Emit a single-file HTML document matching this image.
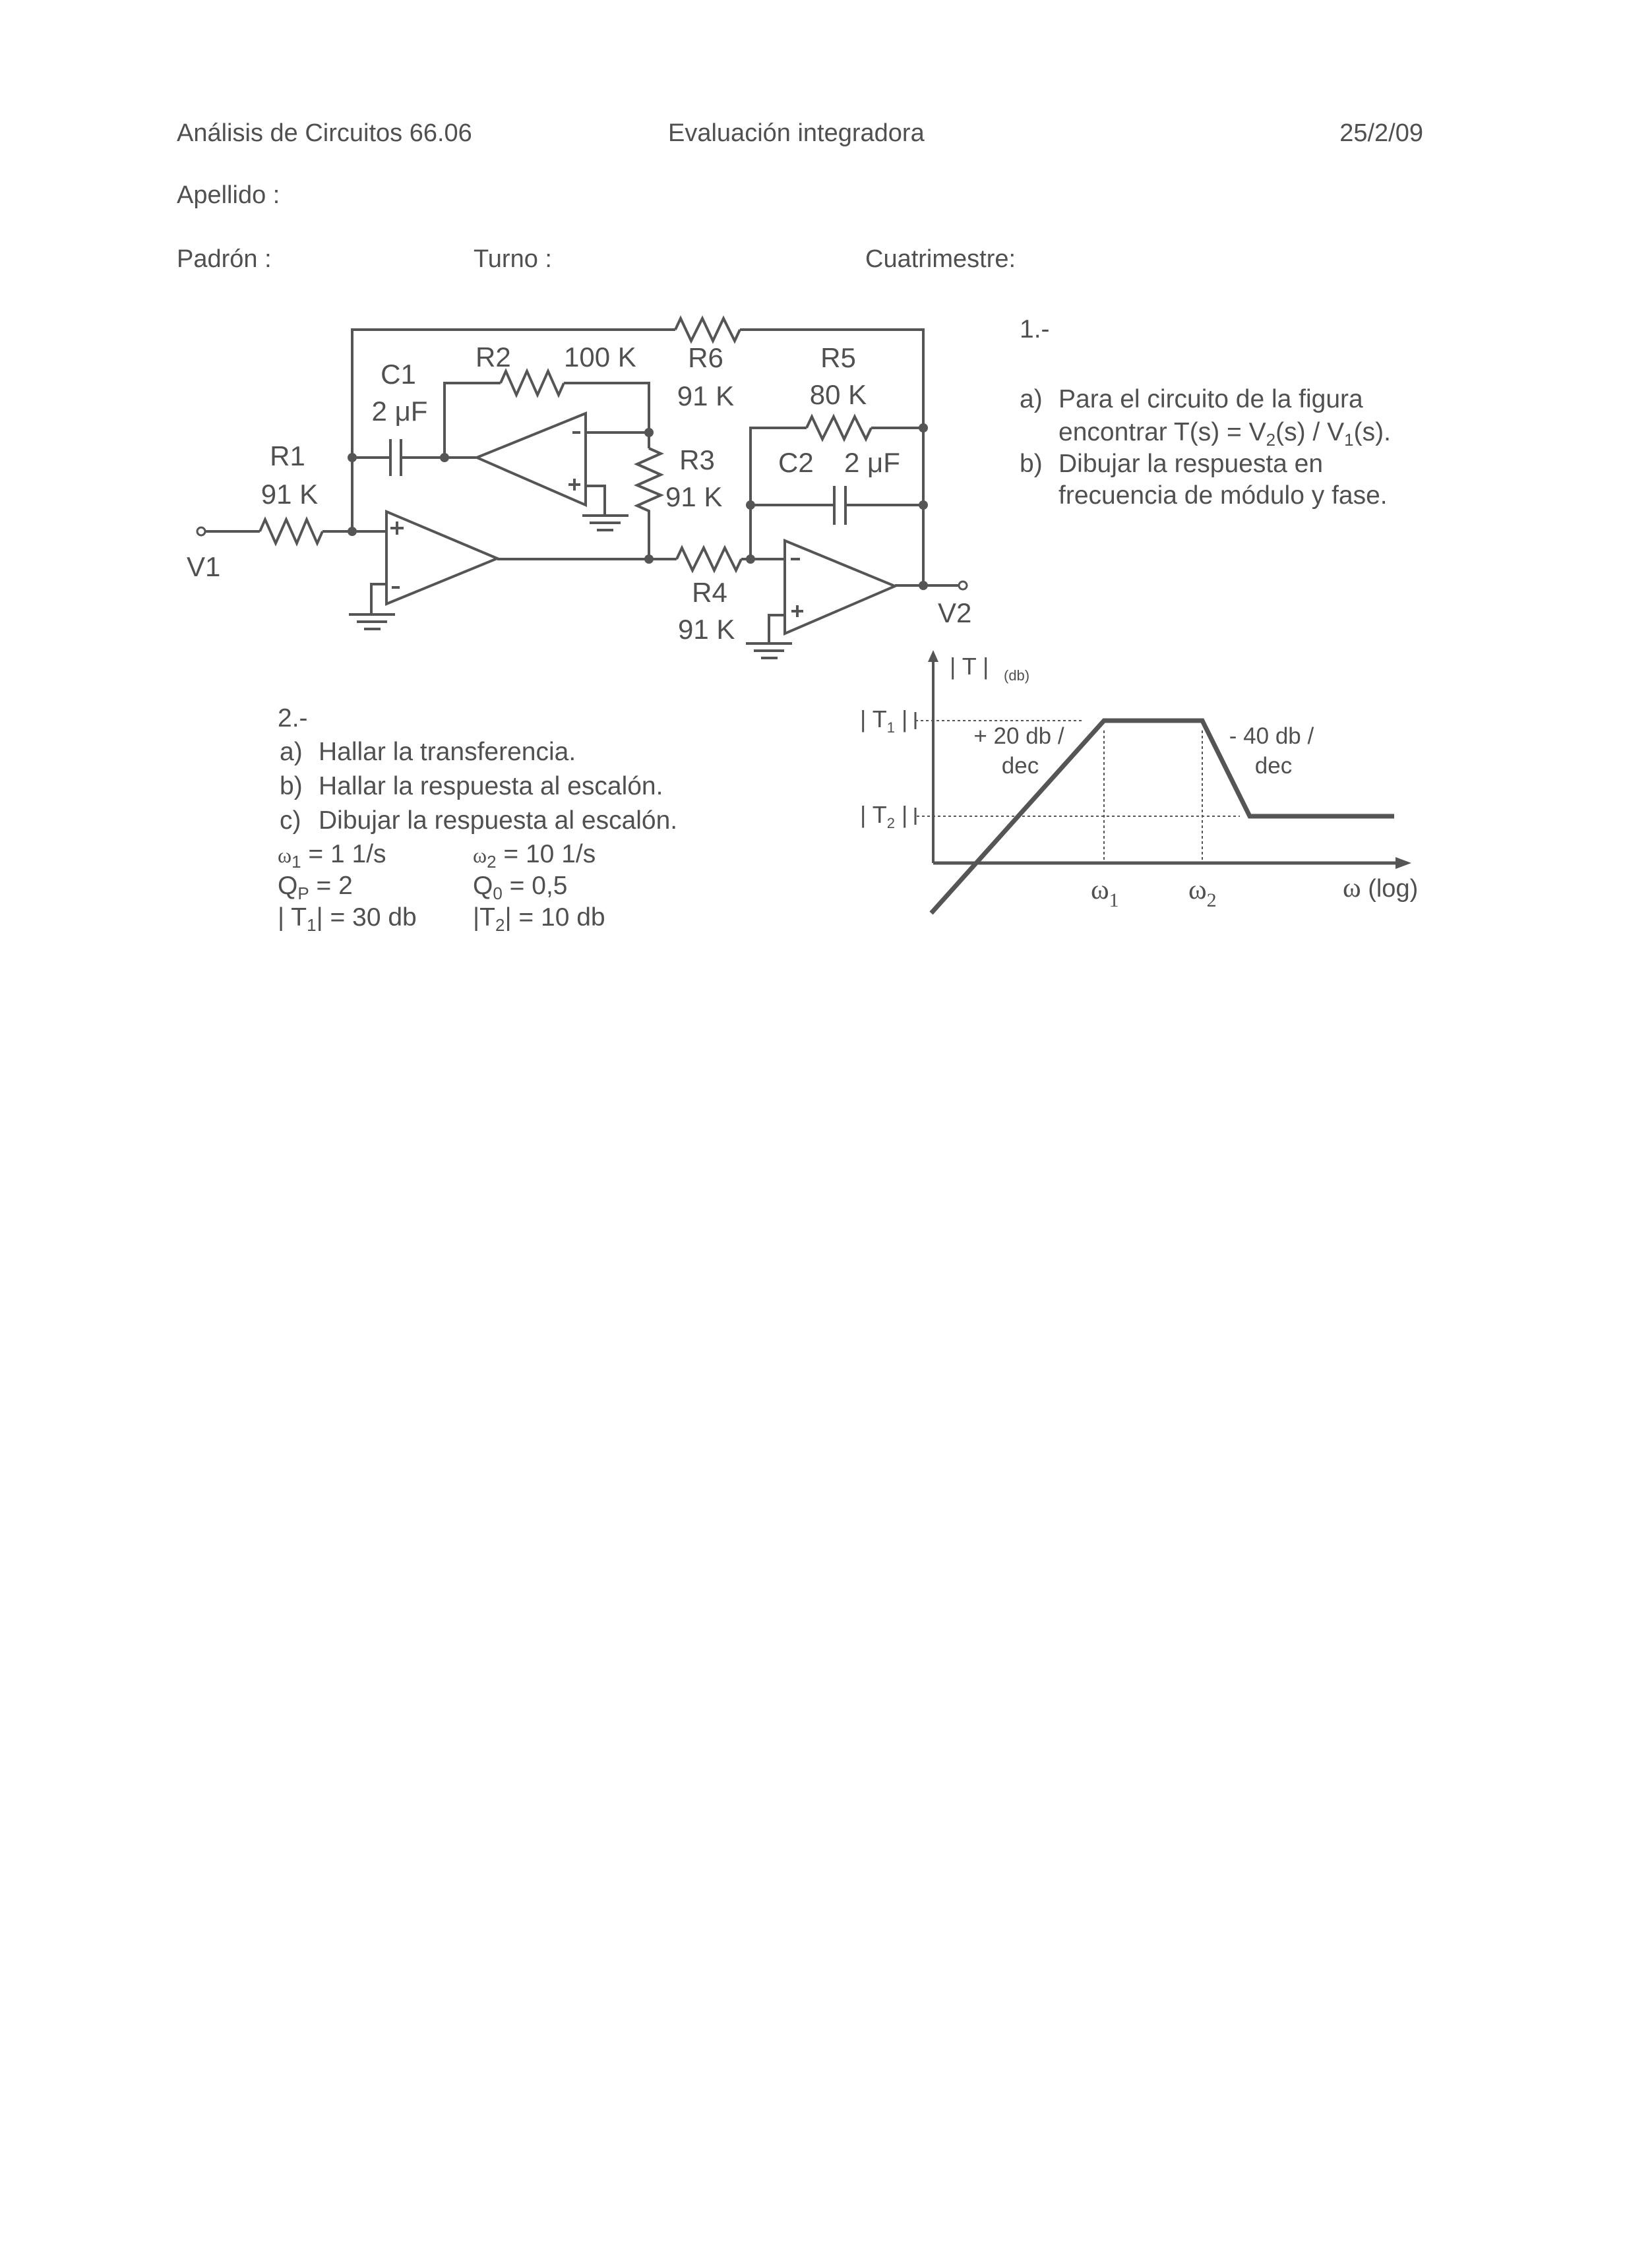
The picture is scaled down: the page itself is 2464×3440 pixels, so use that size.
<!DOCTYPE html>
<html><head><meta charset="utf-8"><style>
html,body{margin:0;padding:0;background:#fff;}
svg{display:block;}
text{font-family:"Liberation Sans",sans-serif;fill:#505050;}
.s{font-family:"Liberation Serif",serif;}
</style></head><body>
<svg width="2464" height="3440" viewBox="0 0 2464 3440" xmlns="http://www.w3.org/2000/svg">
<rect width="2464" height="3440" fill="#fff"/>
<!-- header -->
<g font-size="38">
<text x="268" y="214">Análisis de Circuitos 66.06</text>
<text x="1013" y="214">Evaluación integradora</text>
<text x="2158" y="214" text-anchor="end">25/2/09</text>
<text x="268" y="308">Apellido :</text>
<text x="268" y="405">Padrón :</text>
<text x="718" y="405">Turno :</text>
<text x="1312" y="405">Cuatrimestre:</text>
</g>

<!-- circuit -->
<g stroke="#555" stroke-width="4" fill="none" stroke-linejoin="miter">
<polyline points="534,806 534,500 1024,500"/>
<polyline points="1024,500 1032,483 1048,517 1065,483 1081,517 1097,483 1114,517 1122,500"/>
<polyline points="1122,500 1400,500 1400,888"/>
<line x1="534" y1="694" x2="592" y2="694"/>
<line x1="592" y1="666" x2="592" y2="722"/>
<line x1="608" y1="666" x2="608" y2="722"/>
<line x1="608" y1="694" x2="723" y2="694"/>
<polyline points="674,694 674,581 759,581"/>
<polyline points="759,581 767,563 783,599 799,563 815,599 831,563 847,599 855,581"/>
<polyline points="855,581 984,581 984,680"/>
<polygon points="888,627 888,766 723,694"/>
<line x1="888" y1="656" x2="984" y2="656"/>
<polyline points="888,737 917,737 917,782"/>
<line x1="883" y1="782" x2="953" y2="782"/>
<line x1="894" y1="793" x2="941" y2="793"/>
<line x1="905" y1="804" x2="930" y2="804"/>
<polyline points="984,680 1002,688 966,704 1002,720 966,736 1002,751 966,767 984,775 984,848"/>
<circle cx="305" cy="806" r="6" stroke-width="3"/>
<line x1="311" y1="806" x2="394" y2="806"/>
<polyline points="394,806 402,788 418,824 434,788 450,824 465,788 481,824 489,806"/>
<line x1="489" y1="806" x2="586" y2="806"/>
<polygon points="586,776 586,916 754,847"/>
<line x1="754" y1="848" x2="1026" y2="848"/>
<polyline points="586,886 563,886 563,932"/>
<line x1="529" y1="932" x2="599" y2="932"/>
<line x1="541" y1="943" x2="587" y2="943"/>
<line x1="552" y1="954" x2="577" y2="954"/>
<polyline points="1026,848 1034,831 1050,865 1067,831 1083,865 1099,831 1116,865 1124,848"/>
<line x1="1124" y1="848" x2="1190" y2="848"/>
<polyline points="1138,848 1138,649 1223,649"/>
<polyline points="1223,649 1231,632 1247,666 1264,632 1280,666 1296,632 1313,666 1321,649"/>
<line x1="1321" y1="649" x2="1400" y2="649"/>
<line x1="1138" y1="766" x2="1265" y2="766"/>
<line x1="1265" y1="737" x2="1265" y2="796"/>
<line x1="1282" y1="737" x2="1282" y2="796"/>
<line x1="1282" y1="766" x2="1400" y2="766"/>
<polygon points="1190,820 1190,961 1357,889"/>
<line x1="1357" y1="888" x2="1454" y2="888"/>
<circle cx="1460" cy="888" r="6" stroke-width="3"/>
<polyline points="1190,933 1166,933 1166,976"/>
<line x1="1131" y1="976" x2="1201" y2="976"/>
<line x1="1143" y1="987" x2="1189" y2="987"/>
<line x1="1154" y1="998" x2="1179" y2="998"/>
<g stroke-width="4">
<line x1="592" y1="801" x2="612" y2="801"/><line x1="602" y1="791" x2="602" y2="811"/>
<line x1="594" y1="891" x2="606" y2="891"/>
<line x1="868" y1="656" x2="880" y2="656"/>
<line x1="862" y1="735" x2="880" y2="735"/><line x1="871" y1="726" x2="871" y2="744"/>
<line x1="1199" y1="848" x2="1213" y2="848"/>
<line x1="1200" y1="927" x2="1218" y2="927"/><line x1="1209" y1="918" x2="1209" y2="936"/>
</g>
</g>
<g fill="#555">
<circle cx="534" cy="694" r="7"/><circle cx="674" cy="694" r="7"/><circle cx="534" cy="806" r="7"/>
<circle cx="984" cy="656" r="7"/><circle cx="984" cy="848" r="7"/><circle cx="1138" cy="848" r="7"/>
<circle cx="1138" cy="766" r="7"/><circle cx="1400" cy="649" r="7"/><circle cx="1400" cy="766" r="7"/>
<circle cx="1400" cy="888" r="7"/>
</g>
<g font-size="42">
<text x="604" y="582" text-anchor="middle">C1</text>
<text x="606" y="638" text-anchor="middle">2 μF</text>
<text x="721" y="556">R2</text>
<text x="855" y="556">100 K</text>
<text x="1070" y="557" text-anchor="middle">R6</text>
<text x="1070" y="615" text-anchor="middle">91 K</text>
<text x="1271" y="557" text-anchor="middle">R5</text>
<text x="1271" y="613" text-anchor="middle">80 K</text>
<text x="436" y="706" text-anchor="middle">R1</text>
<text x="439" y="764" text-anchor="middle">91 K</text>
<text x="283" y="874">V1</text>
<text x="1057" y="712" text-anchor="middle">R3</text>
<text x="1009" y="768">91 K</text>
<text x="1180" y="716">C2</text>
<text x="1280" y="716">2 μF</text>
<text x="1076" y="913" text-anchor="middle">R4</text>
<text x="1028" y="969">91 K</text>
<text x="1422" y="944">V2</text>
</g>

<g font-size="39">
<text x="1546" y="512">1.-</text>
<text x="1546" y="618">a)</text><text x="1605" y="618">Para el circuito de la figura</text>
<text x="1605" y="668">encontrar T(s) = V<tspan font-size="26" dy="8">2</tspan><tspan dy="-8">(s) / V</tspan><tspan font-size="26" dy="8">1</tspan><tspan dy="-8">(s).</tspan></text>
<text x="1546" y="716">b)</text><text x="1605" y="716">Dibujar la respuesta en</text>
<text x="1605" y="764">frecuencia de módulo y fase.</text>
</g>

<g font-size="39">
<text x="421" y="1102">2.-</text>
<text x="424" y="1153">a)</text><text x="483" y="1153">Hallar la transferencia.</text>
<text x="424" y="1205">b)</text><text x="483" y="1205">Hallar la respuesta al escalón.</text>
<text x="424" y="1257">c)</text><text x="483" y="1257">Dibujar la respuesta al escalón.</text>
<text x="421" y="1308"><tspan class="s" font-size="32">ω</tspan><tspan font-size="26" dy="8">1</tspan><tspan dy="-8"> = 1  1/s</tspan></text>
<text x="717" y="1308"><tspan class="s" font-size="32">ω</tspan><tspan font-size="26" dy="8">2</tspan><tspan dy="-8"> = 10 1/s</tspan></text>
<text x="421" y="1356">Q<tspan font-size="26" dy="8">P</tspan><tspan dy="-8"> = 2</tspan></text>
<text x="717" y="1356">Q<tspan font-size="26" dy="8">0</tspan><tspan dy="-8">  = 0,5</tspan></text>
<text x="421" y="1404">| T<tspan font-size="26" dy="8">1</tspan><tspan dy="-8">|  = 30 db</tspan></text>
<text x="717" y="1404">|T<tspan font-size="26" dy="8">2</tspan><tspan dy="-8">| = 10 db</tspan></text>
</g>

<g stroke="#555" fill="none">
<line x1="1415" y1="1000" x2="1415" y2="1309" stroke-width="4"/>
<line x1="1415" y1="1309" x2="2120" y2="1309" stroke-width="5"/>
<g stroke-width="2" stroke-dasharray="4,4">
<line x1="1388" y1="1093" x2="1640" y2="1093"/>
<line x1="1390" y1="1238" x2="1880" y2="1238"/>
<line x1="1674" y1="1108" x2="1674" y2="1309"/>
<line x1="1823" y1="1108" x2="1823" y2="1309"/>
</g>
<polyline points="1412,1385 1674,1093 1823,1093 1895,1238 2114,1238" stroke-width="7"/>
<line x1="1388" y1="1080" x2="1388" y2="1106" stroke-width="3"/>
<line x1="1388" y1="1225" x2="1388" y2="1251" stroke-width="3"/>
</g>
<polygon points="1415,986 1407,1004 1423,1004" fill="#555"/>
<polygon points="2140,1309 2116,1300 2116,1318" fill="#555"/>
<text x="1440" y="1023" font-size="36">| T |</text>
<text x="1522" y="1032" font-size="22">(db)</text>
<text x="1304" y="1103" font-size="36">| T<tspan font-size="22" dy="8">1</tspan><tspan dy="-8"> |</tspan></text>
<text x="1304" y="1248" font-size="36">| T<tspan font-size="22" dy="8">2</tspan><tspan dy="-8"> |</tspan></text>
<g font-size="35">
<text x="1545" y="1128" text-anchor="middle">+ 20 db /</text>
<text x="1547" y="1173" text-anchor="middle">dec</text>
<text x="1928" y="1128" text-anchor="middle">- 40 db /</text>
<text x="1931" y="1173" text-anchor="middle">dec</text>
</g>
<text class="s" x="1654" y="1363" font-size="42">ω<tspan font-size="30" dy="12">1</tspan></text>
<text class="s" x="1802" y="1363" font-size="42">ω<tspan font-size="30" dy="12">2</tspan></text>
<text x="2036" y="1360" font-size="38"><tspan class="s" font-size="42">ω</tspan> (log)</text>
</svg>
</body></html>
